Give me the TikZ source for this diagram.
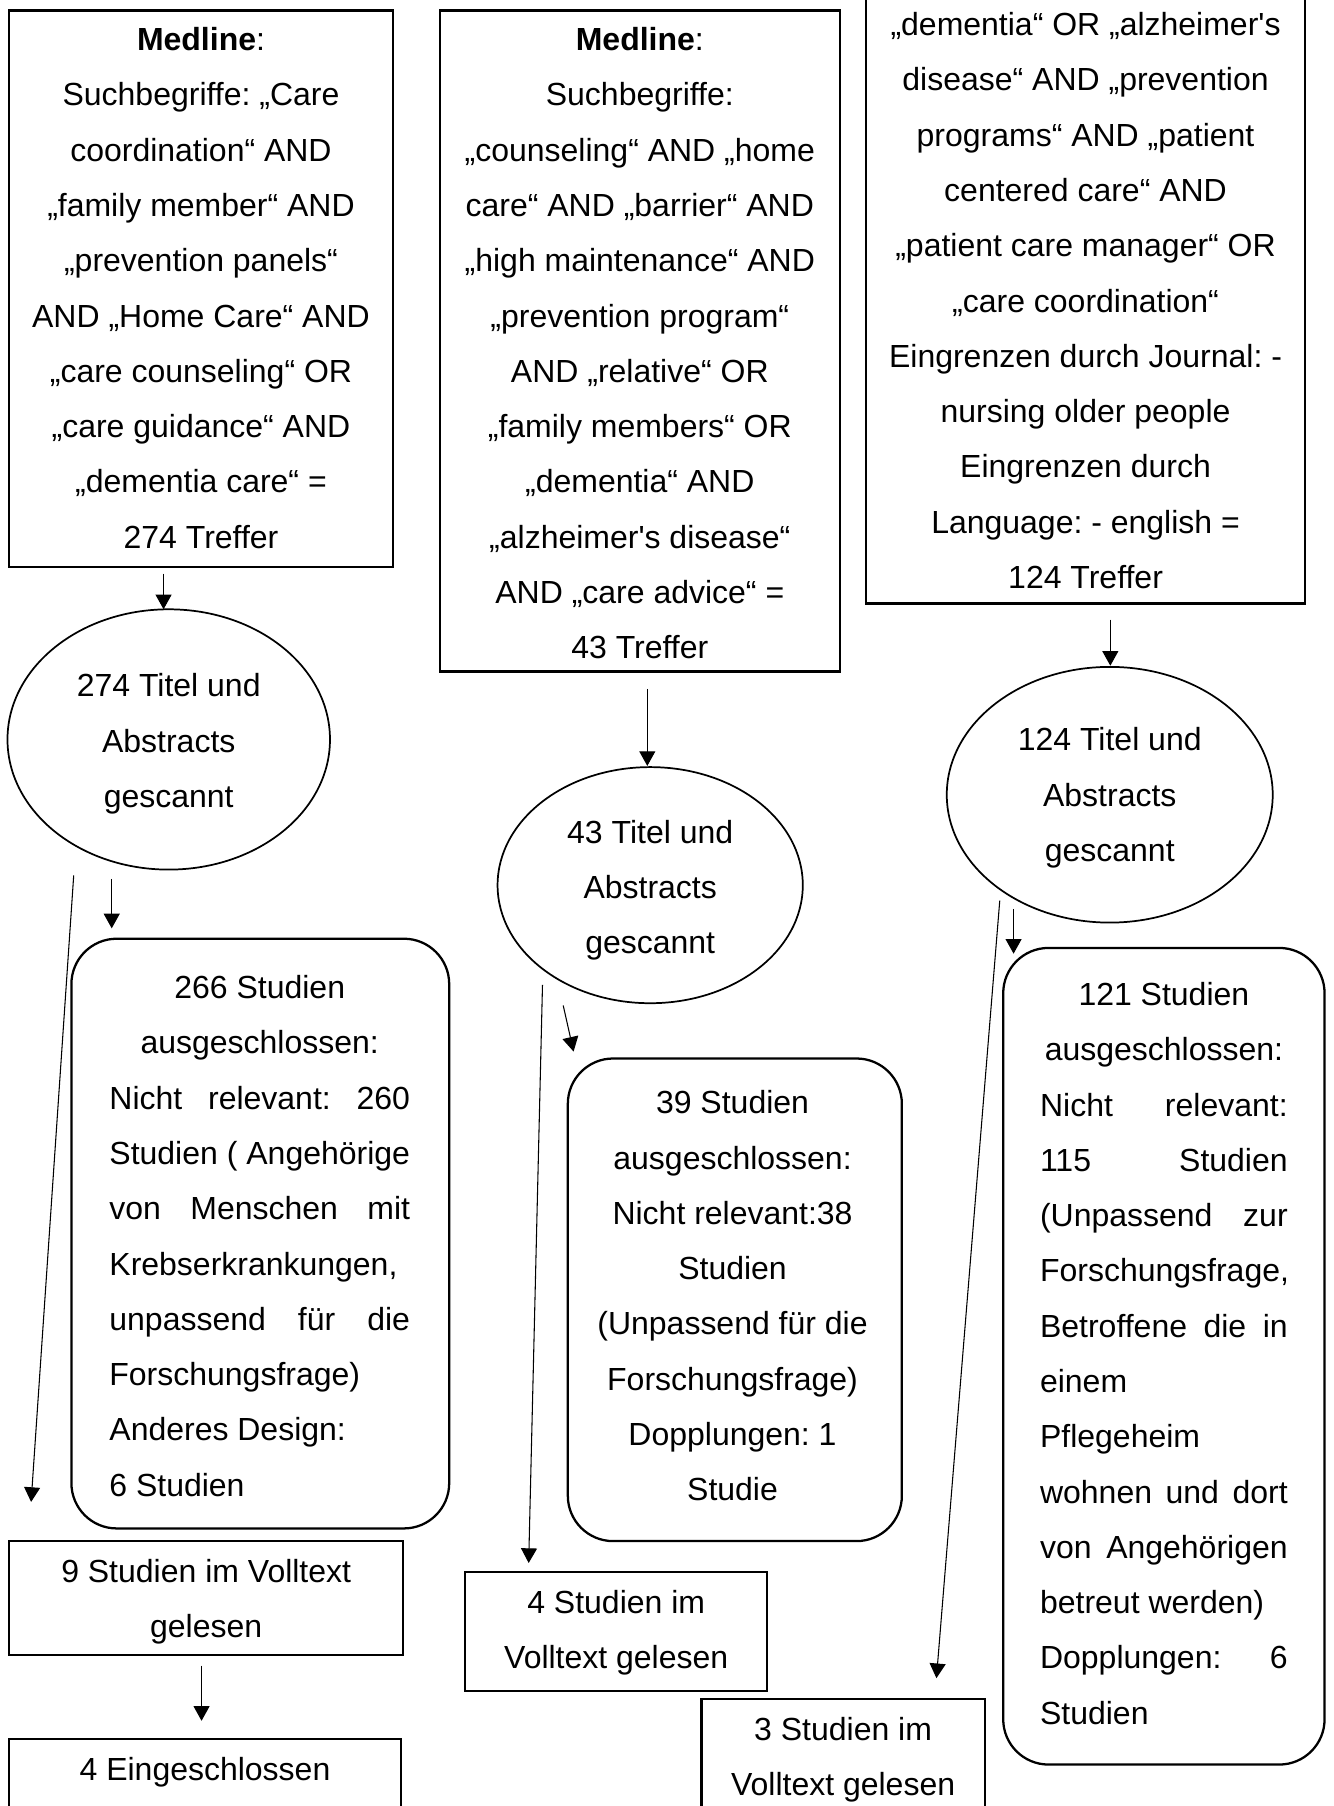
\documentclass[tikz,border=0pt]{standalone}
\usepackage{fontspec}
\setmainfont{Liberation Sans}[Ligatures=TeXOff]
\usetikzlibrary{arrows.meta,shapes.geometric}
\def\upx{0.4321pt}
\newcommand\tbox[2]{\parbox[t]{#1}{\frenchspacing\centering #2}}
\newcommand\lineJ[1]{\makebox[\linewidth][s]{#1}}
\newcommand\lineL[1]{\makebox[\linewidth][l]{#1}}
\frenchspacing
\begin{document}
\begin{tikzpicture}[x=0.4321pt,y=-0.4321pt,
  rbox/.style={draw, line width=0.85pt, inner sep=0pt, outer sep=0pt},
  rnd/.style={rbox, rounded corners=17pt},
  ell/.style={draw, ellipse, line width=0.65pt, inner sep=0pt, outer sep=0pt},
  txt/.style={anchor=base, inner sep=0pt, outer sep=0pt, font=\fontsize{12pt}{20.74pt}\selectfont},
  arr/.style={-{Triangle[width=6pt,length=5.5pt]}, line width=0.4pt}]
\useasboundingbox (0,0) rectangle (1158,1568);
\clip (0,0) rectangle (1158,1568);

% ---------- left column ----------
\node[rbox, minimum width=333*\upx, minimum height=483*\upx] (a1) at (174.5,250.5) {};
\node[txt] (a1t) at (174.5,44) {\tbox{150pt}{\textbf{Medline}:\\
Suchbegriffe: „Care\\
coordination“ AND\\
„family member“ AND\\
„prevention panels“\\
AND „Home Care“ AND\\
„care counseling“ OR\\
„care guidance“ AND\\
„dementia care“ =\\
274 Treffer}};

\node[ell, minimum width=280*\upx, minimum height=226*\upx] (a2) at (146.5,642) {};
\node[txt] (a2t) at (146.5,605) {\tbox{110pt}{274 Titel und\\Abstracts\\gescannt}};

\node[rnd, minimum width=328*\upx, minimum height=512*\upx] (a3) at (226,1071) {};
\node[txt] (a3t) at (225.5,867) {\tbox{112.78pt}{266 Studien\\
ausgeschlossen:\\
\lineJ{Nicht relevant: 260}\\
\lineJ{Studien ( Angehörige}\\
\lineJ{von Menschen mit}\\
\lineL{Krebserkrankungen,}\\
\lineJ{unpassend für die}\\
\lineL{Forschungsfrage)}\\
\lineL{Anderes Design:}\\
\lineL{6 Studien}}};

\node[rbox, minimum width=342*\upx, minimum height=99*\upx] (a4) at (179,1387.5) {};
\node[txt] (a4t) at (179,1374) {\tbox{140pt}{9 Studien im Volltext\\gelesen}};

\node[rbox, minimum width=340*\upx, minimum height=110*\upx] (a5) at (178,1565) {};
\node[txt] (a5t) at (178,1546) {\tbox{140pt}{4 Eingeschlossen}};

% ---------- middle column ----------
\node[rbox, minimum width=347*\upx, minimum height=574*\upx] (b1) at (555.5,296) {};
\node[txt] (b1t) at (555.5,44) {\tbox{150pt}{\textbf{Medline}:\\
Suchbegriffe:\\
„counseling“ AND „home\\
care“ AND „barrier“ AND\\
„high maintenance“ AND\\
„prevention program“\\
AND „relative“ OR\\
„family members“ OR\\
„dementia“ AND\\
„alzheimer's disease“\\
AND „care advice“ =\\
43 Treffer}};

\node[ell, minimum width=265*\upx, minimum height=205*\upx] (b2) at (564.5,768.5) {};
\node[txt] (b2t) at (564.5,732) {\tbox{110pt}{43 Titel und\\Abstracts\\gescannt}};

\node[rnd, minimum width=290*\upx, minimum height=419*\upx] (b3) at (638,1128.5) {};
\node[txt] (b3t) at (636,967) {\tbox{120pt}{39 Studien\\
ausgeschlossen:\\
Nicht relevant:38\\
Studien\\
(Unpassend für die\\
Forschungsfrage)\\
Dopplungen: 1\\
Studie}};

\node[rbox, minimum width=262*\upx, minimum height=103*\upx] (b4) at (535,1416.5) {};
\node[txt] (b4t) at (535,1401) {\tbox{110pt}{4 Studien im\\Volltext gelesen}};

% ---------- right column ----------
\node[rbox, minimum width=381*\upx, minimum height=564*\upx] (c1) at (942.5,242) {};
\node[txt] (c1t) at (942.5,31) {\tbox{160pt}{„dementia“ OR „alzheimer's\\
disease“ AND „prevention\\
programs“ AND „patient\\
centered care“ AND\\
„patient care manager“ OR\\
„care coordination“\hspace*{0.28em}\\
Eingrenzen durch Journal: -\\
nursing older people\\
Eingrenzen durch\\
Language: - english =\\
124 Treffer}};

\node[ell, minimum width=283*\upx, minimum height=222*\upx] (c2) at (963.5,690) {};
\node[txt] (c2t) at (963.5,652) {\tbox{110pt}{124 Titel und\\Abstracts\\gescannt}};

\node[rnd, minimum width=279*\upx, minimum height=709*\upx] (c3) at (1010.5,1177.5) {};
\node[txt] (c3t) at (1010.5,873) {\tbox{92.9pt}{121 Studien\\
ausgeschlossen:\\
\lineJ{Nicht relevant:}\\
\lineJ{115 Studien}\\
\lineJ{(Unpassend zur}\\
\lineJ{Forschungsfrage,}\\
\lineJ{Betroffene die in}\\
\lineL{einem}\\
\lineL{Pflegeheim}\\
\lineJ{wohnen und dort}\\
\lineJ{von Angehörigen}\\
\lineL{betreut werden)}\\
\lineJ{Dopplungen: 6}\\
\lineL{Studien}}};

\node[rbox, minimum width=246*\upx, minimum height=145*\upx] (c4) at (732,1547.5) {};
\node[txt] (c4t) at (732,1511) {\tbox{110pt}{3 Studien im\\Volltext gelesen}};

% ---------- connectors ----------
\coordinate (p1s) at (142,498);  \coordinate (p1e) at (142,529);
\coordinate (p2s) at (64,760);   \coordinate (p2e) at (27,1304);
\coordinate (p3s) at (97,763);   \coordinate (p3e) at (97,806);
\coordinate (p4s) at (175,1446); \coordinate (p4e) at (175,1494);
\coordinate (p5s) at (562,598);  \coordinate (p5e) at (562,665);
\coordinate (p6s) at (471,855);  \coordinate (p6e) at (459,1357);
\coordinate (p7s) at (489,873);  \coordinate (p7e) at (498,913);
\coordinate (p8s) at (964,538);  \coordinate (p8e) at (964,578);
\coordinate (p9s) at (868,782);  \coordinate (p9e) at (813,1457);
\coordinate (p10s) at (880,789); \coordinate (p10e) at (880,828);

\draw[arr] (p1s) -- (p1e);
\draw[arr] (p2s) -- (p2e);
\draw[arr] (p3s) -- (p3e);
\draw[arr] (p4s) -- (p4e);
\draw[arr] (p5s) -- (p5e);
\draw[arr] (p6s) -- (p6e);
\draw[arr] (p7s) -- (p7e);
\draw[arr] (p8s) -- (p8e);
\draw[arr] (p9s) -- (p9e);
\draw[arr] (p10s) -- (p10e);
\end{tikzpicture}
\end{document}
